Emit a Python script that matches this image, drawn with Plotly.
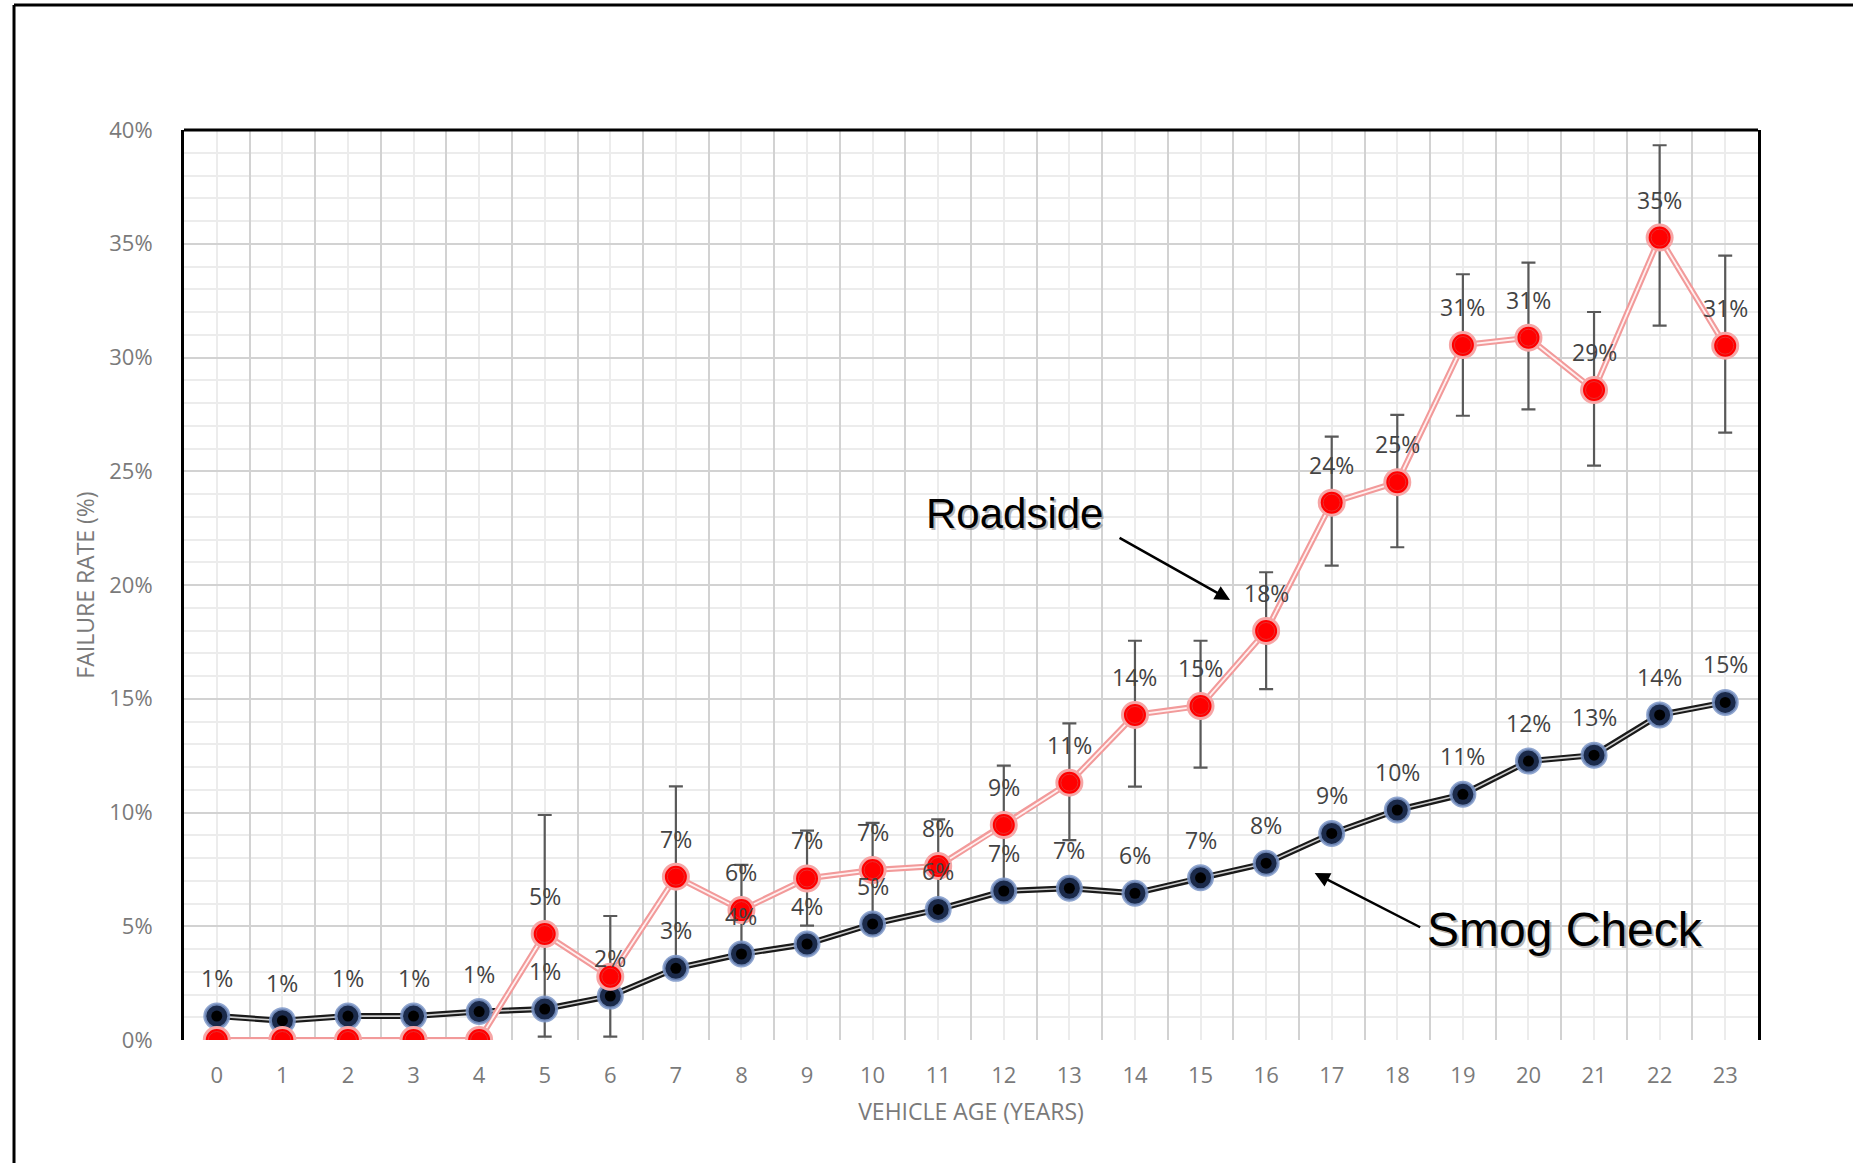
import math
import plotly.graph_objects as go

# Vehicle age categories (years)
ages = list(range(24))
age_labels = [str(a) for a in ages]

# Failure rates (%) by vehicle age
smog_check = [1.05, 0.85, 1.05, 1.05, 1.25, 1.36, 1.93, 3.15, 3.78, 4.22, 5.10, 5.74,
              6.55, 6.67, 6.45, 7.13, 7.77, 9.08, 10.11, 10.80, 12.26, 12.52, 14.29, 14.84]
roadside = [0.0, 0.0, 0.0, 0.0, 0.0, 4.66, 2.78, 7.18, 5.71, 7.10, 7.47, 7.65,
            9.45, 11.31, 14.29, 14.68, 17.98, 23.62, 24.52, 30.55, 30.87, 28.57, 35.27, 30.52]

# Roadside confidence interval bounds (%); None where no interval is drawn
roadside_upper = [None, None, None, None, None, 9.89, 5.45, 11.15, 7.70, 9.20, 9.54, 9.70,
                  12.06, 13.92, 17.55, 17.55, 20.56, 26.52, 27.48, 33.66, 34.17, 32.00, 39.33, 34.48]
roadside_lower = [None, None, None, None, None, 0.15, 0.15, 3.20, 3.70, 5.03, 5.40, 5.60,
                  6.85, 8.79, 11.14, 11.97, 15.42, 20.85, 21.66, 27.44, 27.72, 25.25, 31.40, 26.70]

# Which points carry a value label
smog_labeled = [True] * 24
roadside_labeled = [False] * 5 + [True, False] + [True] * 17

y_ticks = [0, 5, 10, 15, 20, 25, 30, 35, 40]
y_tick_labels = [f"{v}%" for v in y_ticks]

err_plus = [(u - v) if u is not None else 0 for u, v in zip(roadside_upper, roadside)]
err_minus = [(v - l) if l is not None else 0 for l, v in zip(roadside_lower, roadside)]
err_show = [u is not None for u in roadside_upper]

fig = go.Figure()

# Smog Check series: double-stroke line
fig.add_trace(go.Scatter(x=ages, y=smog_check, mode="lines",
                         line=dict(color="#1a1a1a", width=6), hoverinfo="skip", showlegend=False))
fig.add_trace(go.Scatter(x=ages, y=smog_check, mode="lines",
                         line=dict(color="#cfcfcf", width=1.6), hoverinfo="skip", showlegend=False))

# Roadside series: error bars, then double-stroke pink line
fig.add_trace(go.Scatter(
    x=[a for a, s in zip(ages, err_show) if s],
    y=[v for v, s in zip(roadside, err_show) if s],
    mode="markers", marker=dict(size=1, color="rgba(0,0,0,0)"),
    error_y=dict(type="data", symmetric=False,
                 array=[p for p, s in zip(err_plus, err_show) if s],
                 arrayminus=[m for m, s in zip(err_minus, err_show) if s],
                 color="#595959", thickness=2.2, width=7),
    hoverinfo="skip", showlegend=False))
fig.add_trace(go.Scatter(x=ages, y=roadside, mode="lines",
                         line=dict(color="#f29a9a", width=6), hoverinfo="skip", showlegend=False))
fig.add_trace(go.Scatter(x=ages, y=roadside, mode="lines",
                         line=dict(color="#fff0f0", width=1.8), hoverinfo="skip", showlegend=False))

# Markers
fig.add_trace(go.Scatter(x=ages, y=smog_check, mode="markers", name="Smog Check",
                         marker=dict(size=24, color="#1b2a4a",
                                     line=dict(color="rgba(125,150,200,0.85)", width=3)),
                         showlegend=False))
fig.add_trace(go.Scatter(x=ages, y=smog_check, mode="markers",
                         marker=dict(size=11, color="#000000"), hoverinfo="skip", showlegend=False))
fig.add_trace(go.Scatter(x=ages, y=roadside, mode="markers", name="Roadside",
                         marker=dict(size=25, color="#ff0000",
                                     line=dict(color="#f6a5a5", width=3)),
                         showlegend=False))
fig.add_trace(go.Scatter(x=ages, y=roadside, mode="markers",
                         marker=dict(size=17, color="#ff0000",
                                     line=dict(color="#e83030", width=1)),
                         hoverinfo="skip", showlegend=False))


def pct(v):
    return f"{math.floor(v + 0.5)}%"


annotations = []
label_font = dict(family="Open Sans, sans-serif", size=23, color="#434343")
for a, v, show in zip(ages, roadside, roadside_labeled):
    if show:
        annotations.append(dict(x=a, y=v, text=pct(v), showarrow=False, yshift=38,
                                font=label_font))
for a, v, show in zip(ages, smog_check, smog_labeled):
    if show:
        annotations.append(dict(x=a, y=v, text=pct(v), showarrow=False, yshift=38,
                                font=label_font))

# Callout labels with soft drop shadow
callouts = [
    dict(text="Roadside", x=12.17, y=23.15, size=42),
    dict(text="Smog Check", x=20.55, y=4.86, size=48),
]
for c in callouts:
    annotations.append(dict(x=c["x"], y=c["y"], text=c["text"], showarrow=False,
                            xshift=2, yshift=-2,
                            font=dict(family="Arial, Liberation Sans, sans-serif",
                                      size=c["size"], color="rgba(120,120,120,0.55)")))
    annotations.append(dict(x=c["x"], y=c["y"], text=c["text"], showarrow=False,
                            font=dict(family="Arial, Liberation Sans, sans-serif",
                                      size=c["size"], color="#000000")))

# Callout arrows
annotations.append(dict(x=15.45, y=19.34, text="", showarrow=True, ax=-112, ay=-63,
                        arrowhead=2, arrowsize=1.2, arrowwidth=2.5, arrowcolor="#000000"))
annotations.append(dict(x=16.74, y=7.34, text="", showarrow=True, ax=107, ay=55,
                        arrowhead=2, arrowsize=1.2, arrowwidth=2.5, arrowcolor="#000000"))

shapes = [
    # plot-area frame: top edge
    dict(type="line", xref="paper", yref="paper", x0=0, x1=1, y0=1, y1=1,
         line=dict(color="#000000", width=3)),
    # outer chart frame (top and left edges)
    dict(type="line", xref="paper", yref="paper", x0=-0.108, x1=1.2, y0=1.1374, y1=1.1374,
         line=dict(color="#000000", width=3)),
    dict(type="line", xref="paper", yref="paper", x0=-0.108, x1=-0.108, y0=1.1374, y1=-0.3,
         line=dict(color="#000000", width=3)),
]

fig.update_layout(
    width=1853, height=1163,
    margin=dict(l=184, r=95, t=130, b=123),
    paper_bgcolor="#ffffff", plot_bgcolor="#ffffff",
    showlegend=False,
    annotations=annotations,
    shapes=shapes,
    xaxis=dict(
        range=[-0.5, 23.5], tickmode="array",
        tickvals=[a - 0.5 for a in ages] + [23.5], ticktext=[""] * 25,
        showgrid=True, gridcolor="#d2d2d2", gridwidth=2,
        minor=dict(tickmode="array", tickvals=ages, showgrid=True,
                   gridcolor="#ececec", gridwidth=1.5),
        zeroline=False, showline=False, ticks="",
        title=None,
    ),
    xaxis2=dict(
        overlaying="x", matches="x", side="bottom", range=[-0.5, 23.5],
        tickmode="array", tickvals=ages, ticktext=age_labels,
        showgrid=False, zeroline=False, showline=False, ticks="",
        ticklabelstandoff=20,
        tickfont=dict(family="Open Sans, sans-serif", size=22, color="#7a7a7a"),
        title=dict(text="VEHICLE AGE (YEARS)", standoff=15,
                   font=dict(family="Open Sans, sans-serif", size=23, color="#7a7a7a")),
    ),
    yaxis=dict(
        range=[0, 40], tickmode="array", tickvals=y_ticks, ticktext=y_tick_labels,
        showgrid=True, gridcolor="#d2d2d2", gridwidth=2,
        minor=dict(dtick=1, showgrid=True, gridcolor="#ececec", gridwidth=1.5),
        zeroline=False, showline=True, mirror=True, linecolor="#000000", linewidth=3,
        ticks="", ticklabelstandoff=24,
        tickfont=dict(family="Open Sans, sans-serif", size=22, color="#7a7a7a"),
        title=dict(text="FAILURE RATE (%)", standoff=9,
                   font=dict(family="Open Sans, sans-serif", size=23, color="#7a7a7a")),
    ),
)

# Invisible trace on the label axis so it is rendered
fig.add_trace(go.Scatter(x=[0], y=[0], xaxis="x2", mode="markers",
                         marker=dict(size=0.1, color="rgba(0,0,0,0)"),
                         hoverinfo="skip", showlegend=False))

fig.write_html("out.html")
